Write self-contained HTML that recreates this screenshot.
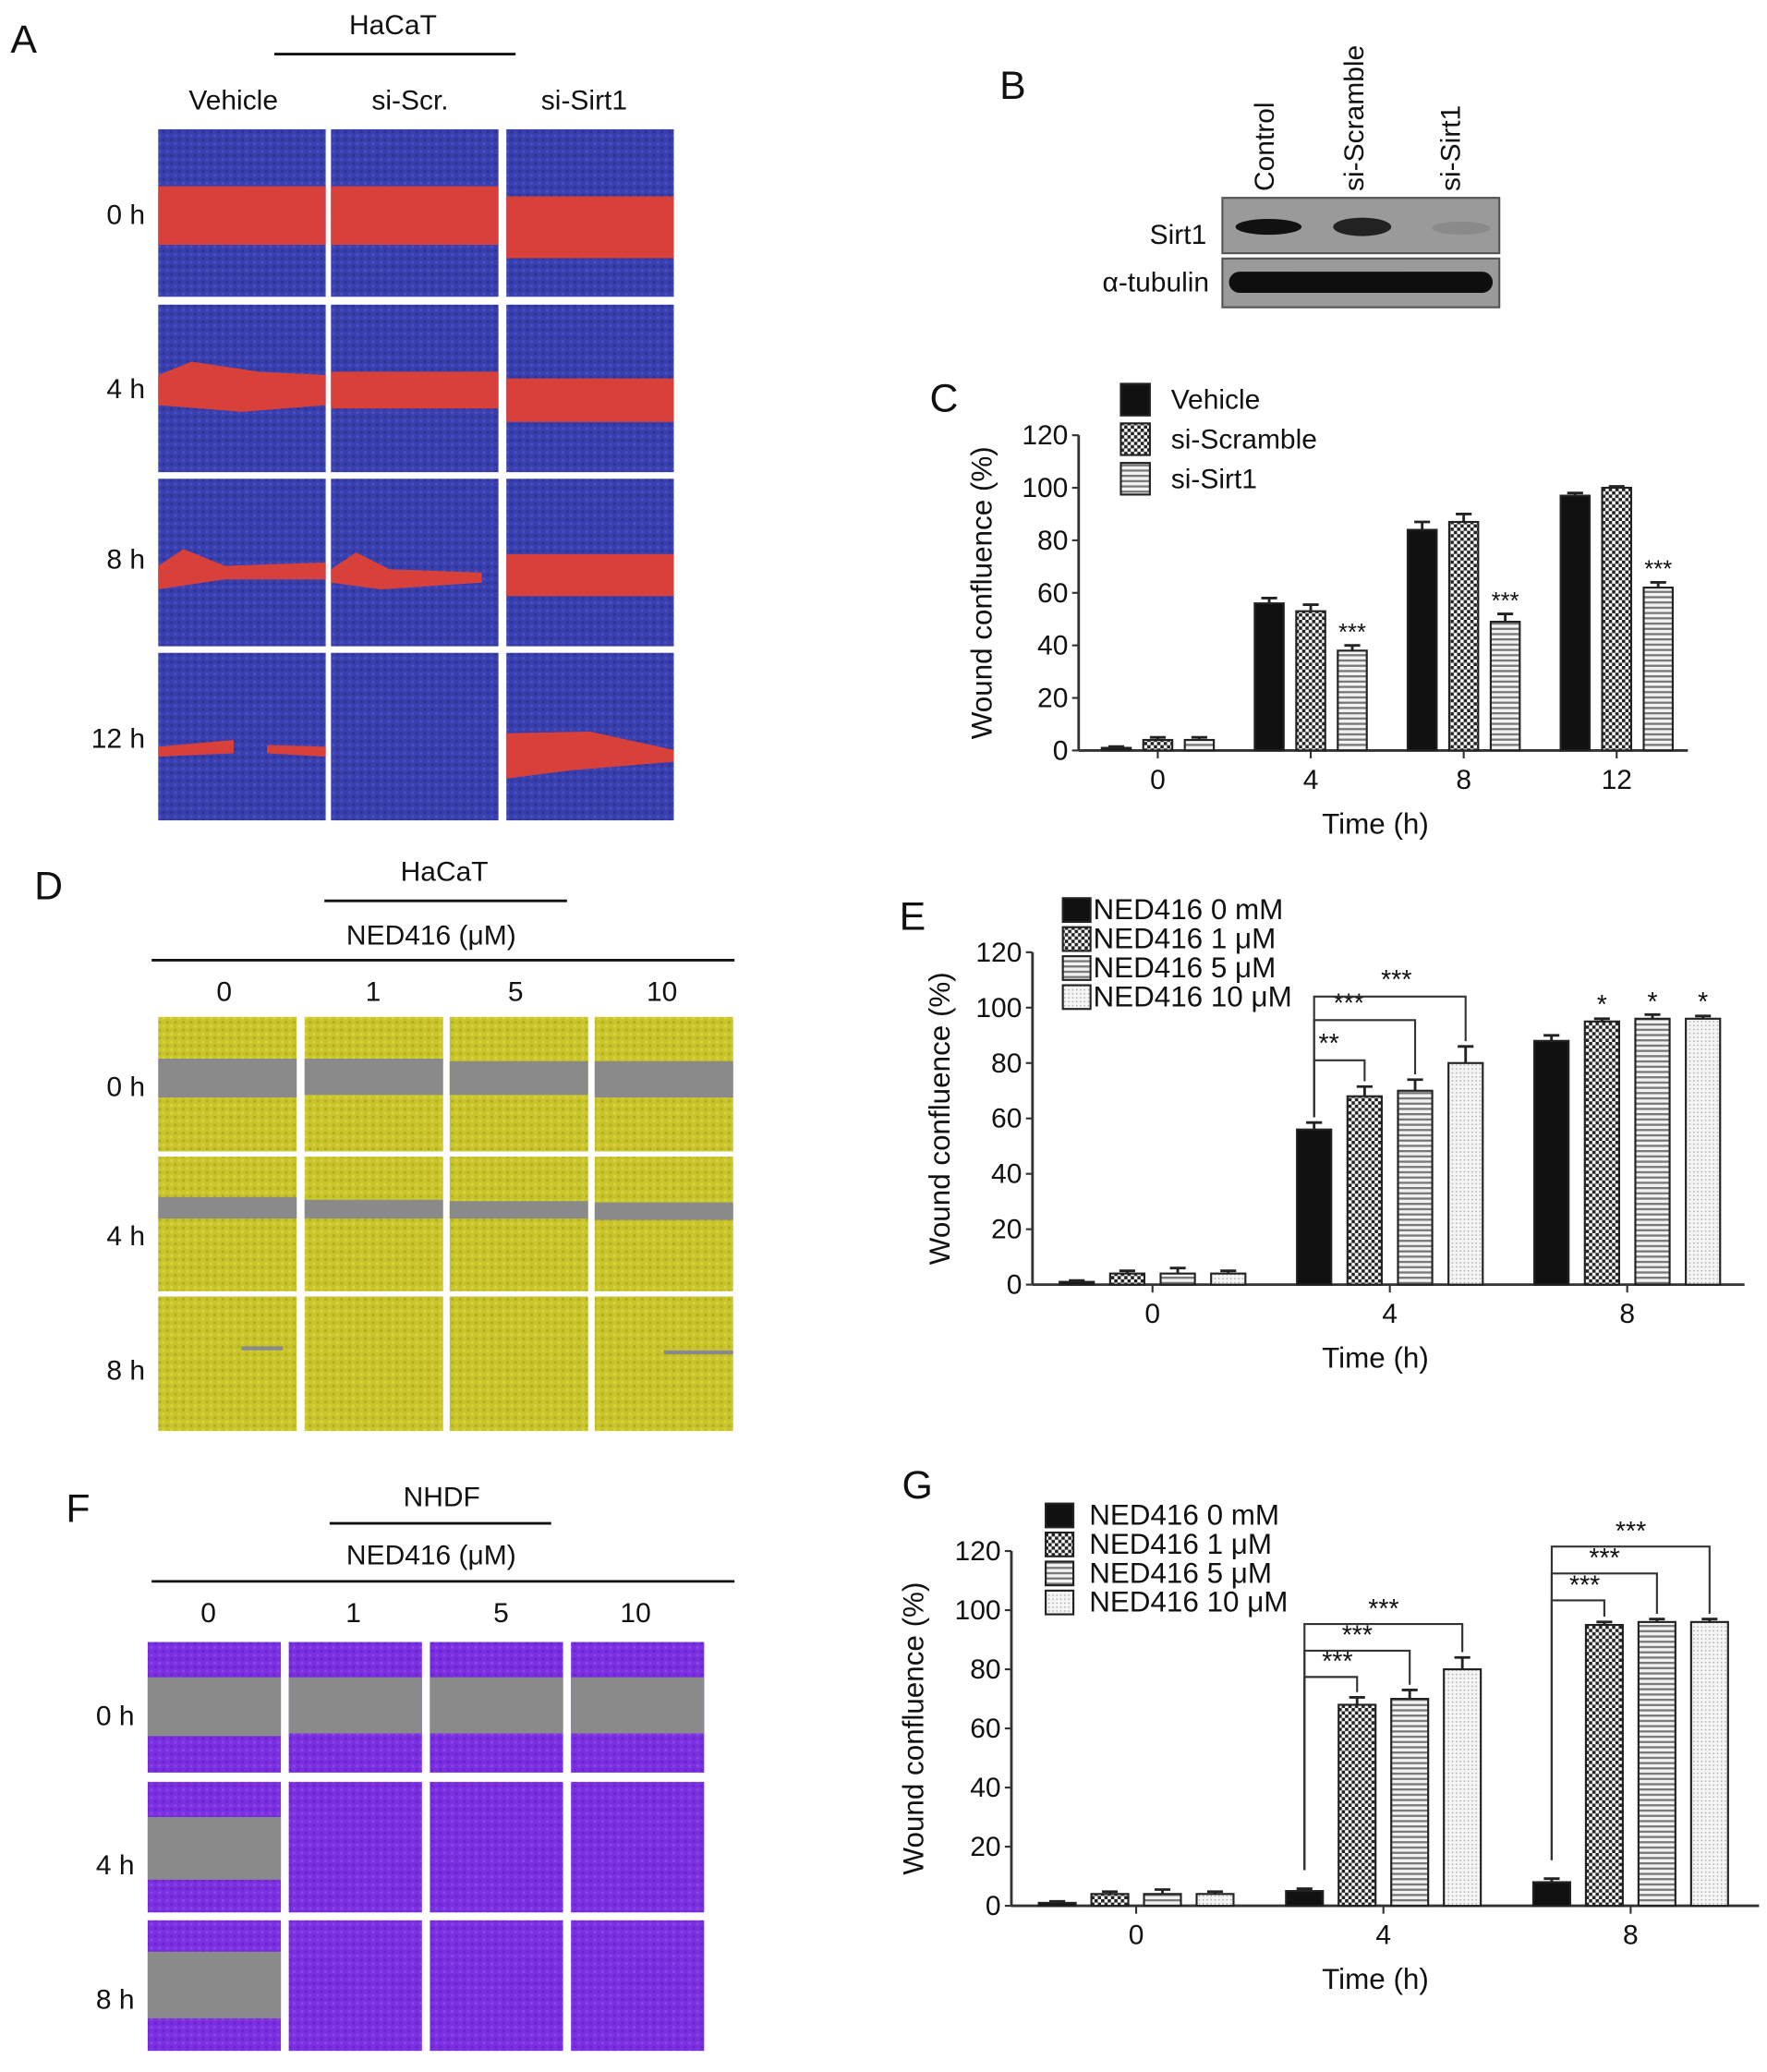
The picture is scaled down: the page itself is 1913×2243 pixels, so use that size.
<!DOCTYPE html>
<html><head><meta charset="utf-8"><style>
html,body{margin:0;padding:0;background:#fff}
svg{display:block}
text{font-family:"Liberation Sans",sans-serif;fill:#111}
</style></head><body>
<svg id="fig" width="1913" height="2243" viewBox="0 0 1340 1571" preserveAspectRatio="none" xmlns="http://www.w3.org/2000/svg">
<defs>
<pattern id="pCheck" width="5" height="5" patternUnits="userSpaceOnUse"><rect width="5" height="5" fill="#fff"/><rect width="2.5" height="2.5" fill="#222"/><rect x="2.5" y="2.5" width="2.5" height="2.5" fill="#222"/></pattern>
<pattern id="pStripe" width="4" height="4" patternUnits="userSpaceOnUse"><rect width="4" height="4" fill="#f2f2f2"/><rect width="4" height="1.6" fill="#777"/></pattern>
<pattern id="pDot" width="3" height="3" patternUnits="userSpaceOnUse"><rect width="3" height="3" fill="#f4f4f4"/><rect width="1" height="1" fill="#aaa"/></pattern>
<pattern id="pBlue" width="6" height="6" patternUnits="userSpaceOnUse"><rect width="6" height="6" fill="#3a3fae"/><rect width="2" height="2" fill="#4a50c4"/><rect x="3" y="3" width="2" height="2" fill="#2e3290"/></pattern>
<pattern id="pYel" width="6" height="6" patternUnits="userSpaceOnUse"><rect width="6" height="6" fill="#c9c42c"/><rect width="2" height="2" fill="#b0ad22"/><rect x="3" y="3" width="2" height="2" fill="#d8d43c"/></pattern>
<pattern id="pPur" width="6" height="6" patternUnits="userSpaceOnUse"><rect width="6" height="6" fill="#7a2fe0"/><rect width="2" height="2" fill="#8c45ea"/><rect x="3" y="3" width="2" height="2" fill="#6a24c8"/></pattern>
</defs>

<g>
<text x="8" y="40" font-size="30">A</text>
<text x="298" y="26" font-size="21" text-anchor="middle">HaCaT</text>
<line x1="208" y1="41" x2="391" y2="41" stroke="#111" stroke-width="2"/>
<text x="177" y="83" font-size="21" text-anchor="middle">Vehicle</text>
<text x="311" y="83" font-size="21" text-anchor="middle">si-Scr.</text>
<text x="443" y="83" font-size="21" text-anchor="middle">si-Sirt1</text>
<g id="tilesA"></g>
<text x="110" y="170" font-size="21" text-anchor="end">0 h</text>
<text x="110" y="302" font-size="21" text-anchor="end">4 h</text>
<text x="110" y="431" font-size="21" text-anchor="end">8 h</text>
<text x="110" y="567" font-size="21" text-anchor="end">12 h</text>
</g>

<g>
<text x="758" y="75" font-size="30">B</text>
<text transform="translate(966,145) rotate(-90)" font-size="21">Control</text>
<text transform="translate(1034,145) rotate(-90)" font-size="21">si-Scramble</text>
<text transform="translate(1107,145) rotate(-90)" font-size="21">si-Sirt1</text>
<text x="915" y="185" font-size="21" text-anchor="end">Sirt1</text>
<text x="917" y="221" font-size="21" text-anchor="end">α-tubulin</text>
<rect x="927" y="150" width="210" height="42" fill="#9a9a9a" stroke="#555" stroke-width="1.5"/>
<rect x="927" y="196" width="210" height="37" fill="#9a9a9a" stroke="#555" stroke-width="1.5"/>
<ellipse cx="962" cy="172" rx="25" ry="6" fill="#111"/>
<ellipse cx="1033" cy="172" rx="22" ry="7" fill="#222"/>
<ellipse cx="1108" cy="173" rx="22" ry="5" fill="#8a8a8a"/>
<rect x="932" y="206" width="200" height="16" rx="8" fill="#0e0e0e"/>
</g>

<g>
<text x="26" y="682" font-size="30">D</text>
<text x="337" y="668" font-size="21" text-anchor="middle">HaCaT</text>
<line x1="246" y1="683" x2="430" y2="683" stroke="#111" stroke-width="2"/>
<text x="327" y="716" font-size="21" text-anchor="middle">NED416 (μM)</text>
<line x1="115" y1="728" x2="557" y2="728" stroke="#111" stroke-width="2"/>
<text x="170" y="759" font-size="21" text-anchor="middle">0</text>
<text x="283" y="759" font-size="21" text-anchor="middle">1</text>
<text x="391" y="759" font-size="21" text-anchor="middle">5</text>
<text x="502" y="759" font-size="21" text-anchor="middle">10</text>
<g id="tilesD"></g>
<text x="110" y="831" font-size="21" text-anchor="end">0 h</text>
<text x="110" y="944" font-size="21" text-anchor="end">4 h</text>
<text x="110" y="1046" font-size="21" text-anchor="end">8 h</text>
</g>

<g>
<text x="50" y="1154" font-size="30">F</text>
<text x="335" y="1142" font-size="21" text-anchor="middle">NHDF</text>
<line x1="250" y1="1155" x2="418" y2="1155" stroke="#111" stroke-width="2"/>
<text x="327" y="1186" font-size="21" text-anchor="middle">NED416 (μM)</text>
<line x1="115" y1="1199" x2="557" y2="1199" stroke="#111" stroke-width="2"/>
<text x="158" y="1230" font-size="21" text-anchor="middle">0</text>
<text x="268" y="1230" font-size="21" text-anchor="middle">1</text>
<text x="380" y="1230" font-size="21" text-anchor="middle">5</text>
<text x="482" y="1230" font-size="21" text-anchor="middle">10</text>
<g id="tilesF"></g>
<text x="102" y="1308" font-size="21" text-anchor="end">0 h</text>
<text x="102" y="1421" font-size="21" text-anchor="end">4 h</text>
<text x="102" y="1523" font-size="21" text-anchor="end">8 h</text>
</g>

<g id="chartC"></g>
<g id="chartE"></g>
<g id="chartG"></g>
</svg>
<script>
// ---- Chart C data ----
const cCategories = ['0', '4', '8', '12'];
const cSeriesNames = ['Vehicle', 'si-Scramble', 'si-Sirt1'];
const cVehicle = [1, 56, 84, 97];
const cScramble = [4, 53, 87, 100];
const cSirt1 = [4, 38, 49, 62];
const cVehicleErr = [0.5, 2, 3, 1];
const cScrambleErr = [1, 2.5, 3, 0.5];
const cSirt1Err = [1, 2, 3, 2];
const cTicks = [0, 20, 40, 60, 80, 100, 120];
const cStars = ['', '***', '***', '***'];
// ---- Chart E data ----
const eCategories = ['0', '4', '8'];
const eSeriesNames = ['NED416 0 mM', 'NED416 1 μM', 'NED416 5 μM', 'NED416 10 μM'];
const e0 = [1, 56, 88];
const e1 = [4, 68, 95];
const e5 = [4, 70, 96];
const e10 = [4, 80, 96];
const e0Err = [0.5, 2.5, 2];
const e1Err = [1, 3.5, 1];
const e5Err = [2, 4, 1.5];
const e10Err = [1, 6, 1];
const eTicks = [0, 20, 40, 60, 80, 100, 120];
const eBrackets = ['**', '***', '***'];
const eBracketLevels = [81, 95.5, 104];
const eTopStars = ['*', '*', '*'];
// ---- Chart G data ----
const gCategories = ['0', '4', '8'];
const g0 = [1, 5, 8];
const g1 = [4, 68, 95];
const g5 = [4, 70, 96];
const g10 = [4, 80, 96];
const g0Err = [0.5, 0.8, 1.2];
const g1Err = [0.8, 2.5, 1];
const g5Err = [1.5, 3, 1];
const g10Err = [0.8, 4, 1];
const gTicks = [0, 20, 40, 60, 80, 100, 120];
const gBrackets4 = ['***', '***', '***'];
const gBrackets8 = ['***', '***', '***'];
const gLevels4 = [77.4, 86.3, 95.3];
const gLevels8 = [103.3, 112.4, 121.5];

const NS = 'http://www.w3.org/2000/svg';
function mk(tag, attrs, parent) {
  const e = document.createElementNS(NS, tag);
  for (const k in attrs) e.setAttribute(k, attrs[k]);
  parent.appendChild(e);
  return e;
}
function txt(s, attrs, parent) { const t = mk('text', attrs, parent); t.textContent = s; return t; }

function tiles(gid, xs, ys, w, h, fill, bands, bandColor) {
  const g = document.getElementById(gid);
  ys.forEach((y, r) => xs.forEach((x, c) => {
    const t = mk('rect', {x: x, y: y, width: w, height: h, fill: fill}, g);
    
    
    (bands[r][c] || []).forEach(b => {
      const pts = b.map(p => (x + p[0] * w) + ',' + (y + p[1] * h)).join(' ');
      mk('polygon', {points: pts, fill: bandColor}, g);
    });
  }));
}
function band(t, b, x0 = 0, x1 = 1) { return [[x0, t], [x1, t], [x1, b], [x0, b]]; }
tiles('tilesA', [120, 251, 384], [98, 231, 363, 495], 127, 127, 'url(#pBlue)', [
  [[band(0.34, 0.69)], [band(0.34, 0.69)], [band(0.40, 0.77)]],
  [[[[0, 0.42], [0.2, 0.34], [0.6, 0.40], [1, 0.42], [1, 0.60], [0.5, 0.64], [0, 0.60]]], [band(0.40, 0.62)], [band(0.44, 0.70)]],
  [[[[0, 0.52], [0.15, 0.42], [0.4, 0.52], [1, 0.50], [1, 0.60], [0.4, 0.60], [0, 0.66]]], [[[0, 0.54], [0.15, 0.44], [0.35, 0.54], [0.9, 0.56], [0.9, 0.62], [0.3, 0.66], [0, 0.62]]], [band(0.45, 0.70)]],
  [[[[0, 0.56], [0.45, 0.52], [0.45, 0.60], [0, 0.62]], [[0.65, 0.55], [1, 0.56], [1, 0.62], [0.65, 0.60]]], [], [[[0, 0.48], [0.5, 0.47], [1, 0.58], [1, 0.65], [0.4, 0.70], [0, 0.75]]]]
], '#d8403a');
tiles('tilesD', [120, 231, 341, 451], [771, 877, 983], 105, 102, 'url(#pYel)', [
  [[band(0.31, 0.60)], [band(0.31, 0.58)], [band(0.33, 0.58)], [band(0.33, 0.60)]],
  [[band(0.30, 0.46)], [band(0.32, 0.46)], [band(0.33, 0.46)], [band(0.34, 0.47)]],
  [[band(0.37, 0.40, 0.6, 0.9)], [], [], [band(0.40, 0.43, 0.5, 1)]]
], '#8a8a8a');
tiles('tilesF', [112, 219, 326, 433], [1245, 1351, 1456], 101, 99, 'url(#pPur)', [
  [[band(0.27, 0.72)], [band(0.27, 0.70)], [band(0.27, 0.70)], [band(0.27, 0.70)]],
  [[band(0.27, 0.75)], [], [], []],
  [[band(0.24, 0.75)], [], [], []]
], '#8a8a8a');

const fills = ['#111', 'url(#pCheck)', 'url(#pStripe)', 'url(#pDot)'];
function barChart(id, o) {
  const g = document.getElementById(id);
  const yS = v => o.y0 - (v - 0) * (o.y0 - o.y120) / 120;
  const xS = (gi, si) => o.gx[0] + gi * o.gstep + (si - (o.series.length - 1) / 2) * o.bstep;
  mk('line', {x1: o.ax, y1: o.y0, x2: o.ax, y2: o.y120, stroke: '#333', 'stroke-width': 2}, g);
  mk('line', {x1: o.ax, y1: o.y0, x2: o.xend, y2: o.y0, stroke: '#333', 'stroke-width': 2}, g);
  o.ticks.forEach(t => {
    mk('line', {x1: o.ax - 5, y1: yS(t), x2: o.ax, y2: yS(t), stroke: '#333', 'stroke-width': 1.5}, g);
    const l = txt(String(t), {x: o.ax - 8, y: yS(t) + 7, 'font-size': 21, 'text-anchor': 'end'}, g);
    
    
  });
  o.cats.forEach((c, gi) => {
    const cx = o.gx[0] + gi * o.gstep;
    mk('line', {x1: cx, y1: o.y0, x2: cx, y2: o.y0 + 6, stroke: '#333', 'stroke-width': 1.5}, g);
    const l = txt(c, {x: cx, y: o.y0 + 29, 'font-size': 21, 'text-anchor': 'middle'}, g);
    
    
  });
  o.series.forEach((s, si) => s.forEach((v, gi) => {
    const x = xS(gi, si), top = yS(v), et = yS(v + o.errs[si][gi]);
    mk('line', {x1: x, y1: top, x2: x, y2: et, stroke: '#222', 'stroke-width': 2}, g);
    mk('line', {x1: x - 6, y1: et, x2: x + 6, y2: et, stroke: '#222', 'stroke-width': 2}, g);
    const b = mk('rect', {x: x - o.bw / 2, y: top, width: o.bw, height: o.y0 - top, fill: fills[o.fillIdx[si]], stroke: '#222', 'stroke-width': 1.5}, g);
    
    
  }));
  const yt = txt('Wound confluence (%)', {transform: 'translate(' + o.titleX + ',' + ((o.y0 + o.y120) / 2) + ') rotate(-90)', 'font-size': 22, 'text-anchor': 'middle'}, g);
  
  
  const xt = txt('Time (h)', {x: 1043, y: o.y0 + 63, 'font-size': 22, 'text-anchor': 'middle'}, g);
  
  
  o.legend.forEach((n, i) => {
    const ly = o.ly[0] + i * o.lstep;
    mk('rect', {x: o.lx, y: ly - o.lh / 2, width: o.lw, height: o.lh, fill: fills[o.fillIdx[i]], stroke: '#222', 'stroke-width': 1.5}, g);
    const t = txt(n, {x: o.lx + o.lw + o.lgap, y: ly + 7, 'font-size': o.lfs}, g);
    
    
  });
  return {xS, yS, g};
}

// Chart C
const C = barChart('chartC', {
  cats: cCategories, series: [cVehicle, cScramble, cSirt1], errs: [cVehicleErr, cScrambleErr, cSirt1Err],
  fillIdx: [0, 1, 2], ticks: cTicks, ax: 818, xend: 1280, y0: 569, y120: 330, gx: [878], gstep: 116, bstep: 31.5, bw: 22,
  titleX: 752, legend: cSeriesNames, lx: 850, lw: 22, lh: 24, lgap: 16, ly: [303], lstep: 30, lfs: 21
});
txt('C', {x: 705, y: 312, 'font-size': 30}, C.g);
cStars.forEach((s, gi) => { if (s) txt(s, {x: C.xS(gi, 2), y: C.yS(cSirt1[gi] + cSirt1Err[gi]) - 4, 'font-size': 18, 'text-anchor': 'middle', fill: '#555'}, C.g); });

// Chart E
const E = barChart('chartE', {
  cats: eCategories, series: [e0, e1, e5, e10], errs: [e0Err, e1Err, e5Err, e10Err],
  fillIdx: [0, 1, 2, 3], ticks: eTicks, ax: 783, xend: 1323, y0: 974, y120: 722, gx: [874], gstep: 180, bstep: 38.3, bw: 26,
  titleX: 720, legend: eSeriesNames, lx: 806, lw: 21, lh: 18, lgap: 2, ly: [690], lstep: 22, lfs: 22
});
txt('E', {x: 682, y: 705, 'font-size': 30}, E.g);
[1, 2, 3].forEach((si, k) => {
  const x0 = E.xS(1, 0), x1 = E.xS(1, si), by = E.yS(eBracketLevels[k]);
  const base = E.yS(e0[1] + e0Err[1]) - 4;
  mk('polyline', {points: x0 + ',' + base + ' ' + x0 + ',' + by + ' ' + x1 + ',' + by + ' ' + x1 + ',' + (E.yS([e1, e5, e10][k][1] + [e1Err, e5Err, e10Err][k][1]) - 4), fill: 'none', stroke: '#333', 'stroke-width': 1.5}, E.g);
  txt(eBrackets[k], {x: (x0 + x1) / 2 - [8, 12, -5][k], y: by - 6, 'font-size': 20, 'text-anchor': 'middle', fill: '#555'}, E.g);
});
eTopStars.forEach((s, k) => txt(s, {x: E.xS(2, k + 1), y: E.yS([e1, e5, e10][k][2]) - 6, 'font-size': 20, 'text-anchor': 'middle', fill: '#555'}, E.g));

// Chart G
const G = barChart('chartG', {
  cats: gCategories, series: [g0, g1, g5, g10], errs: [g0Err, g1Err, g5Err, g10Err],
  fillIdx: [0, 1, 2, 3], ticks: gTicks, ax: 767, xend: 1334, y0: 1445, y120: 1176, gx: [861.6], gstep: 187.5, bstep: 39.9, bw: 28,
  titleX: 700, legend: eSeriesNames, lx: 793, lw: 21, lh: 18, lgap: 12, ly: [1149], lstep: 22, lfs: 22
});
txt('G', {x: 684, y: 1136, 'font-size': 30}, G.g);
[[1, gLevels4, gBrackets4], [2, gLevels8, gBrackets8]].forEach(([gi, lv, lab]) => {
  [1, 2, 3].forEach((si, k) => {
    const x0 = G.xS(gi, 0), x1 = G.xS(gi, si), by = G.yS(lv[k]);
    const base = G.yS(g0[gi] + g0Err[gi]) - 14;
    mk('polyline', {points: x0 + ',' + base + ' ' + x0 + ',' + by + ' ' + x1 + ',' + by + ' ' + x1 + ',' + (G.yS([g1, g5, g10][k][gi] + [g1Err, g5Err, g10Err][k][gi]) - 4), fill: 'none', stroke: '#333', 'stroke-width': 1.5}, G.g);
    txt(lab[k], {x: x0 + [25, 40, 60][k], y: by - 5, 'font-size': 20, 'text-anchor': 'middle', fill: '#555'}, G.g);
  });
});
</script>
</body></html>
